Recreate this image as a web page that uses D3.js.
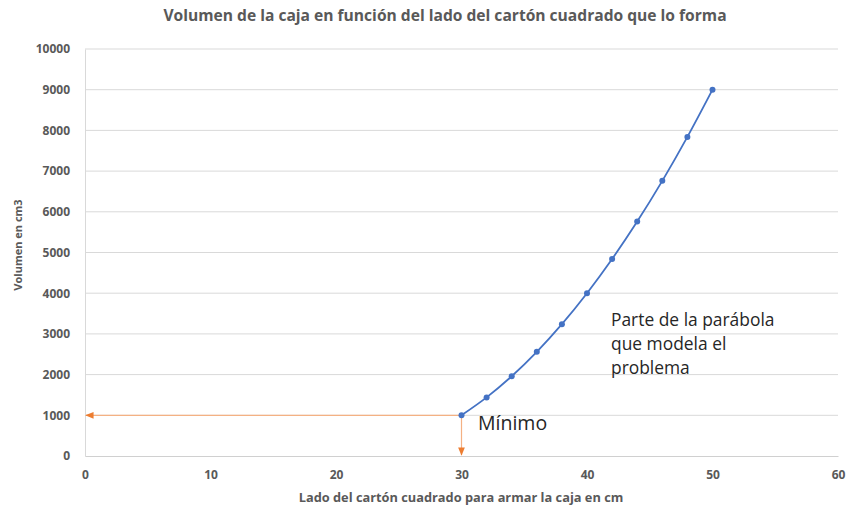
<!DOCTYPE html>
<html>
<head>
<meta charset="utf-8">
<script src="https://cdn.jsdelivr.net/npm/d3@7"></script>
<style>
  body { margin: 0; background: #fff; }
  text { font-family: "Open Sans", "Noto Sans", sans-serif; }
</style>
</head>
<body>
<script>
// datos
const lado = [30, 32, 34, 36, 38, 40, 42, 44, 46, 48, 50]
const volumen = [1000, 1440, 1960, 2560, 3240, 4000, 4840, 5760, 6760, 7840, 9000]
const xTicks = [0, 10, 20, 30, 40, 50, 60]
const yTicks = [0, 1000, 2000, 3000, 4000, 5000, 6000, 7000, 8000, 9000, 10000]
const minimo = { x: 30, y: 1000 }

const W = 850, H = 510
const svg = d3.select('body').append('svg')
    .attr('width', W)
    .attr('height', H)

const x = d3.scaleLinear().domain([0, 60]).range([85, 838])
const y = d3.scaleLinear().domain([0, 10000]).range([456, 49])

const defs = svg.append('defs')
defs.append('marker')
    .attr('id', 'flecha')
    .attr('viewBox', '0 0 10 10')
    .attr('refX', 9).attr('refY', 5)
    .attr('markerWidth', 7).attr('markerHeight', 7)
    .attr('orient', 'auto')
    .append('path')
    .attr('d', 'M0,1 L10,5 L0,9 z')
    .attr('fill', '#ED7D31')

// titulo
svg.append('text')
    .attr('x', 445).attr('y', 21)
    .attr('text-anchor', 'middle')
    .attr('font-size', 15.6).attr('font-weight', 'bold')
    .attr('fill', '#595959')
    .text('Volumen de la caja en función del lado del cartón cuadrado que lo forma')

// grilla
svg.append('g').selectAll('line')
    .data(yTicks.slice(1))
    .enter().append('line')
    .attr('x1', x(0)).attr('x2', x(60))
    .attr('y1', d => y(d)).attr('y2', d => y(d))
    .attr('stroke', '#d9d9d9').attr('stroke-width', 1)

// eje y
const yAxis = svg.append('g')
    .attr('transform', `translate(${x(0)},0)`)
    .call(d3.axisLeft(y).tickValues(yTicks).tickFormat(d3.format('d')).tickSize(0).tickPadding(15))
yAxis.select('.domain').attr('stroke', '#d9d9d9')
yAxis.selectAll('text')
    .attr('font-size', 12).attr('font-weight', 'bold').attr('fill', '#595959')
    .style('font-family', '"Open Sans", sans-serif')

// eje x
const xAxis = svg.append('g')
    .attr('transform', `translate(0,${y(0)})`)
    .call(d3.axisBottom(x).tickValues(xTicks).tickFormat(d3.format('d')).tickSize(0).tickPadding(14))
xAxis.select('.domain').attr('stroke', '#d0d0d0')
xAxis.selectAll('text')
    .attr('font-size', 12).attr('font-weight', 'bold').attr('fill', '#595959')
    .style('font-family', '"Open Sans", sans-serif')

// titulos de ejes
svg.append('text')
    .attr('x', 461).attr('y', 502)
    .attr('text-anchor', 'middle')
    .attr('font-size', 12.8).attr('font-weight', 'bold').attr('fill', '#595959')
    .text('Lado del cartón cuadrado para armar la caja en cm')

svg.append('text')
    .attr('transform', 'translate(22,245) rotate(-90)')
    .attr('text-anchor', 'middle')
    .attr('font-size', 11).attr('font-weight', 'bold').attr('fill', '#595959')
    .text('Volumen en cm3')

// flechas del minimo
svg.append('line')
    .attr('x1', x(minimo.x)).attr('y1', y(minimo.y))
    .attr('x2', x(0) + 1).attr('y2', y(minimo.y))
    .attr('stroke', '#F4B183').attr('stroke-width', 1.2)
    .attr('marker-end', 'url(#flecha)')
svg.append('line')
    .attr('x1', x(minimo.x)).attr('y1', y(minimo.y))
    .attr('x2', x(minimo.x)).attr('y2', y(0) - 1)
    .attr('stroke', '#F4B183').attr('stroke-width', 1.2)
    .attr('marker-end', 'url(#flecha)')

// curva
const pts = lado.map((d, i) => [d, volumen[i]])
const line = d3.line()
    .x(d => x(d[0]))
    .y(d => y(d[1]))
    .curve(d3.curveCatmullRom)
svg.append('path')
    .datum(pts)
    .attr('d', line)
    .attr('fill', 'none')
    .attr('stroke', '#4472C4')
    .attr('stroke-width', 1.8)

svg.append('g').selectAll('circle')
    .data(pts)
    .enter().append('circle')
    .attr('cx', d => x(d[0]))
    .attr('cy', d => y(d[1]))
    .attr('r', 3)
    .attr('fill', '#4472C4')

// anotaciones
svg.append('text')
    .attr('x', 478).attr('y', 430)
    .attr('font-size', 19.5).attr('fill', '#262626')
    .text('Mínimo')

const nota = ['Parte de la parábola', 'que modela el', 'problema']
svg.append('text')
    .attr('font-size', 17.4).attr('fill', '#262626')
    .selectAll('tspan')
    .data(nota)
    .enter().append('tspan')
    .attr('x', 611)
    .attr('y', (d, i) => 326 + i * 24)
    .text(d => d)
</script>
</body>
</html>
